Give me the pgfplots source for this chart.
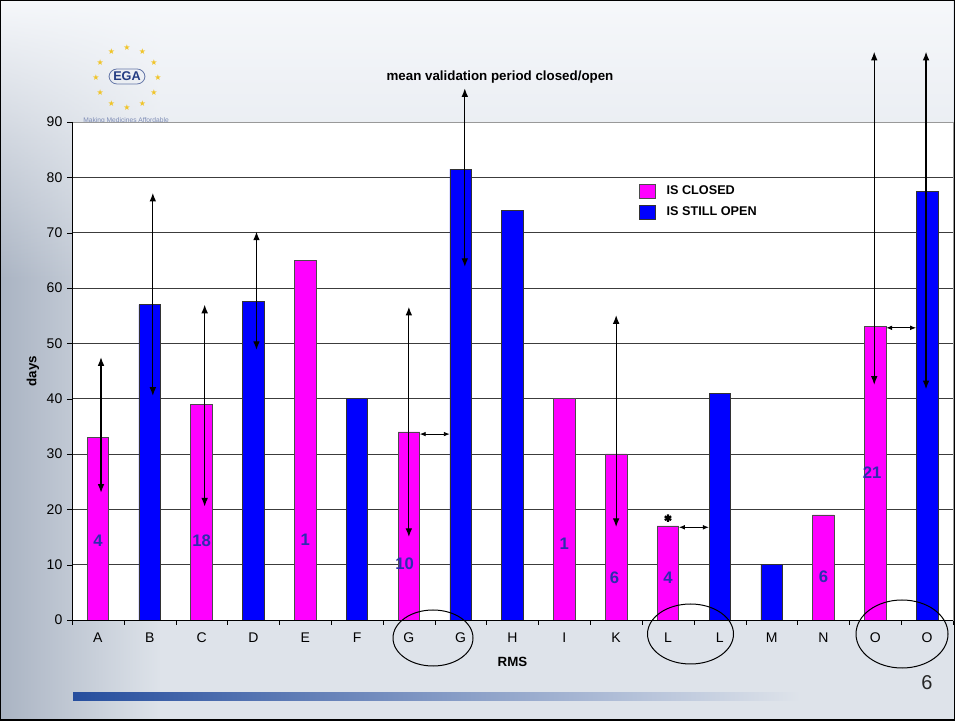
\documentclass[border=0pt]{standalone}
\usepackage{fontspec}
\setmainfont{Liberation Sans}
\newfontfamily\symfont{DejaVu Sans}
\usepackage{pgfplots}
\pgfplotsset{compat=1.18}
\usepackage{pgfplotstable}
\usetikzlibrary{arrows.meta,fadings}

\definecolor{closedc}{RGB}{255,0,255}
\definecolor{openc}{RGB}{0,0,255}
\definecolor{numc}{RGB}{45,45,175}
\definecolor{gridc}{RGB}{60,60,60}
\definecolor{bgc}{RGB}{222,227,234}
\definecolor{bgleft}{RGB}{170,180,195}
\definecolor{bgtop}{RGB}{246,248,251}
\definecolor{barblue}{RGB}{38,78,158}
\definecolor{starc}{RGB}{240,196,40}
\definecolor{egac}{RGB}{35,60,130}

% bars: x position (0..16) and height in days
\pgfplotstableread{
x y
0 33
2 39
4 65
6 34
9 40
10 30
11 17
14 19
15 53
}\closedtab

\pgfplotstableread{
x y
1 57
3 57.5
5 40
7 81.5
8 74
12 41
13 10
16 77.5
}\opentab

% vertical arrows: start at bar top, dup/ddown = length up/down
\pgfplotstableread{
x y dup ddown
0.06 33 14.5 -10
1.06 57 20.2 -16.5
2.06 39 18 -18.5
3.06 57.5 12.7 -8.7
6 34 22.6 -19
7.08 81.5 14.6 -17.7
10 30 25.1 -13.2
14.98 53 49.7 -10.5
15.98 77.5 25.2 -35.8
}\rangetab

% horizontal double arrows between paired bars
\pgfplotstableread{
x y u
6.21 33.6 0.58
11.21 16.75 0.58
15.21 52.8 0.58
}\linktab

% counts written inside the bars
\pgfplotstableread{
x y label
0 14.3 4
2 14.3 18
4 14.5 1
5.92 10.1 10
9 13.8 1
9.97 7.6 6
11 7.6 4
14 7.9 6
14.94 26.7 21
}\labeltab

\begin{document}
\begin{tikzpicture}[x=0.75pt,y=0.75pt]
\useasboundingbox (0,0) rectangle (955,720);
% slide background
\fill[bgc] (0,0) rectangle (955,720);
\fill[bgleft, path fading=east] (0,0) rectangle (160,720);
\fill[bgtop, path fading=south] (0,440) rectangle (955,720);
\shade[left color=barblue, right color=bgc] (73,20) rectangle (800,28);
\node[font=\fontsize{15}{17}\selectfont, text=black!85] at (927,37) {6};

% logo
\foreach \a in {0,30,...,330}
  \node[font=\symfont\fontsize{6}{6}\selectfont, text=starc] at ({127+31*cos(\a)},{642+30*sin(\a)}) {★};
\draw[egac!70, line width=0.6pt, rounded corners=6pt] (109,636) rectangle (145,651);
\node[font=\bfseries\fontsize{9.5}{10}\selectfont, text=egac] at (127,644) {EGA};
\node[font=\fontsize{5}{6}\selectfont, text=egac!60] at (126,599) {Making Medicines Affordable};

\coordinate (axSW) at (72,100);
\begin{axis}[
  at={(axSW)}, anchor=south west,
  scale only axis, width=660.75pt, height=373.5pt,
  xmin=-0.5, xmax=16.5, ymin=0, ymax=90,
  clip=false,
  axis background/.style={fill=white},
  axis line style={gray!80},
  ytick={0,10,...,90},
  xtick={0,...,16},
  xticklabels={A,B,C,D,E,F,G,G,H,I,K,L,L,M,N,O,O},
  minor xtick={-0.5,0.5,...,16.5},
  xtick pos=bottom, ytick pos=left,
  tick align=outside,
  major tick length=3.75pt, minor tick length=3.75pt,
  major x tick style={draw=none},
  minor x tick style={black},
  major y tick style={black},
  ymajorgrids, major grid style={gridc, line width=0.6pt},
  /pgf/number format/assume math mode=true,
  ticklabel style={font=\fontsize{10.5}{12}\selectfont},
  xticklabel style={yshift=-2pt},
  title={mean validation period closed/open},
  title style={font=\bfseries\fontsize{10}{12}\selectfont, at={(axis description cs:0.4858,1.0744)}, anchor=center},
  xlabel={RMS},
  xlabel style={font=\bfseries\fontsize{10}{12}\selectfont, at={(axis description cs:0.5,-0.0843)}, anchor=center},
  ylabel={days},
  ylabel style={font=\bfseries\fontsize{10}{12}\selectfont, at={(axis description cs:-0.0443,0.5)}, anchor=center},
  legend style={at={(axis description cs:0.6436,0.8775)}, anchor=north west, draw=none, fill=none,
    font=\bfseries\fontsize{9.5}{11}\selectfont, inner sep=0pt, row sep=3.5pt,
    /tikz/every odd column/.append style={column sep=6pt}},
  legend cell align=left,
]
\addplot[ybar, bar width=0.415, fill=closedc, draw=black!70, line width=0.5pt,
  legend image code/.code={\draw[fill=closedc, draw=black!70] (0pt,-5.5pt) rectangle (12pt,5.5pt);}]
  table[x=x, y=y] \closedtab;
\addlegendentry{IS CLOSED}
\addplot[ybar, bar width=0.415, fill=openc, draw=black!80, line width=0.5pt,
  legend image code/.code={\draw[fill=openc, draw=black!80] (0pt,-5.5pt) rectangle (12pt,5.5pt);}]
  table[x=x, y=y] \opentab;
\addlegendentry{IS STILL OPEN}

% left and bottom axis lines in black
\draw[black, line width=0.6pt] (rel axis cs:0,1) -- (rel axis cs:0,0) -- (rel axis cs:1,0);

\addplot[forget plot, black, line width=0.9pt, -{Latex[length=6.5pt,width=5pt]},
  quiver={u=0, v=\thisrow{dup}}] table[x=x, y=y] \rangetab;
\addplot[forget plot, black, line width=0.9pt, -{Latex[length=6.5pt,width=5pt]},
  quiver={u=0, v=\thisrow{ddown}}] table[x=x, y=y] \rangetab;
\addplot[forget plot, black, line width=0.7pt, {Latex[length=4.5pt,width=3.5pt]}-{Latex[length=4.5pt,width=3.5pt]},
  quiver={u=\thisrow{u}, v=0}] table[x=x, y=y] \linktab;

\addplot[forget plot, only marks, mark=asterisk, mark size=2.8pt, line width=1.6pt, black]
  coordinates {(11,18.4)};

\addplot[forget plot, only marks, mark=none, nodes near coords, point meta=explicit symbolic,
  nodes near coords align=center,
  every node near coord/.append style={font=\bfseries\fontsize{12.5}{14}\selectfont, text=numc, anchor=center}]
  table[x=x, y=y, meta=label] \labeltab;
\end{axis}

% circled pairs of categories
\draw[black, line width=0.75pt] (433,82) ellipse [x radius=40, y radius=28];
\draw[black, line width=0.75pt] (690.5,86) ellipse [x radius=43, y radius=30];
\draw[black, line width=0.75pt] (902,86) ellipse [x radius=46, y radius=34];

\draw[black, line width=0.8pt] (0,0) rectangle (955,720);
\end{tikzpicture}
\end{document}
